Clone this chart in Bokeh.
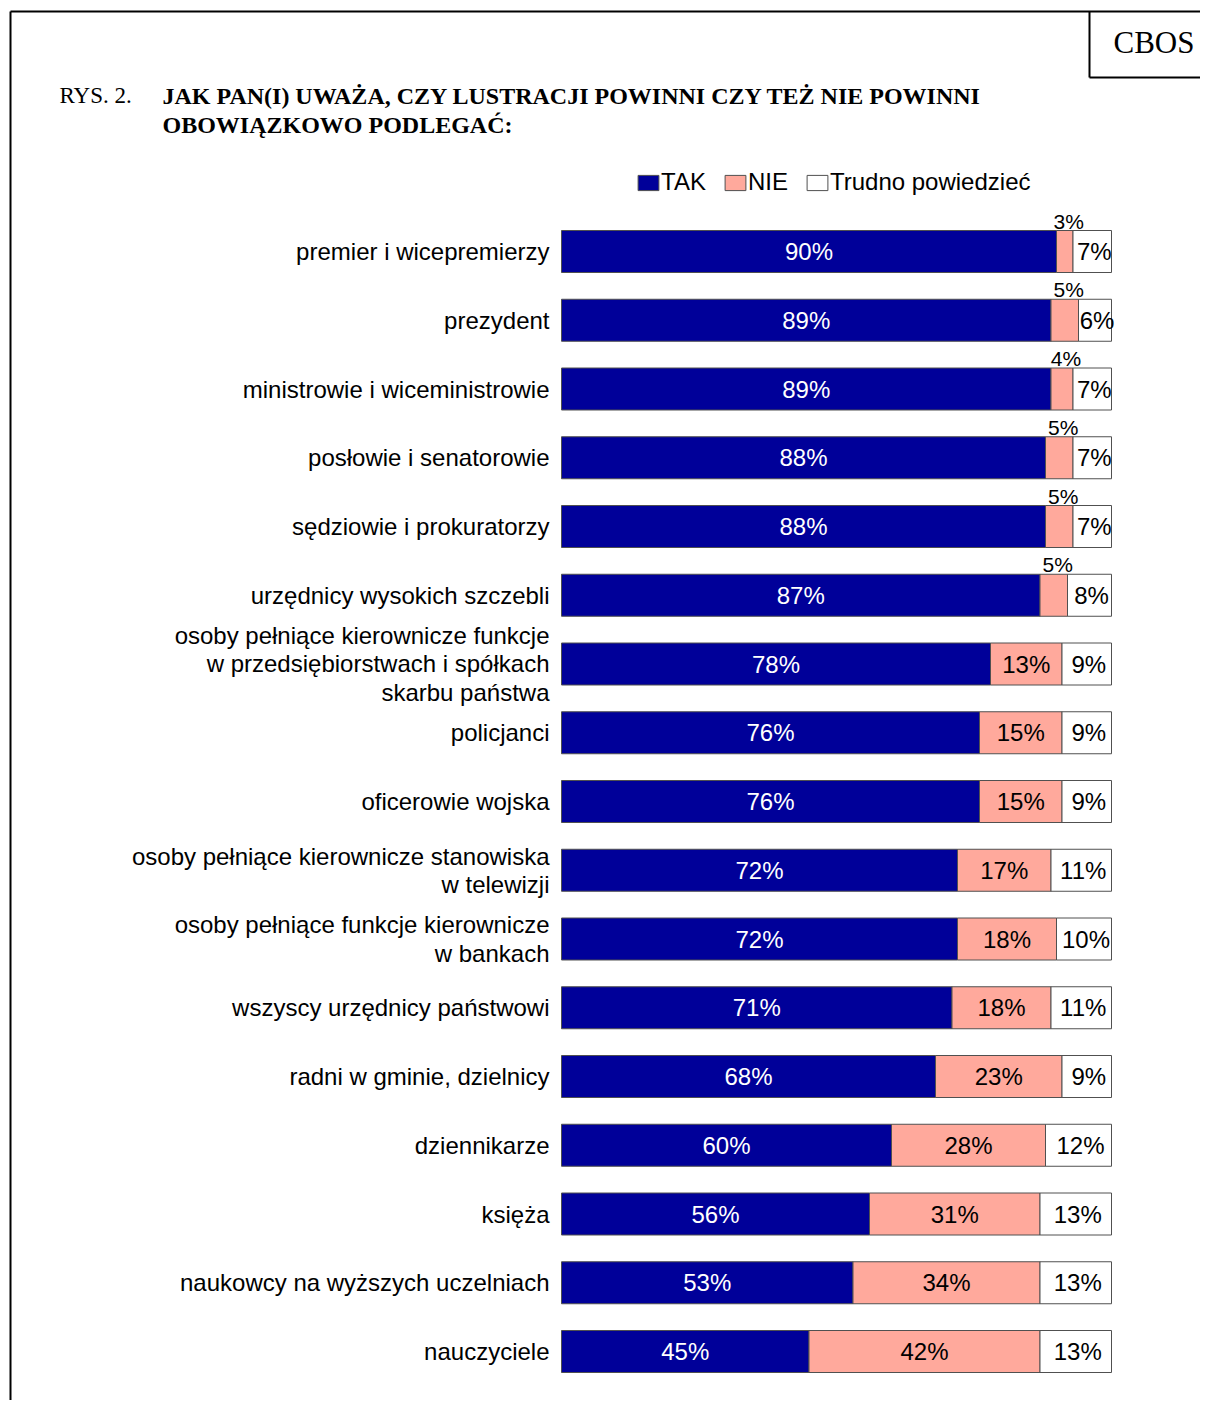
from bokeh.plotting import figure
from bokeh.models import Range1d, ColumnDataSource, Legend, LegendItem
from bokeh.core.properties import value
from bokeh.embed import file_html
from bokeh.resources import INLINE

# ---------------- data ----------------
categories = [
    "premier i wicepremierzy",
    "prezydent",
    "ministrowie i wiceministrowie",
    "posłowie i senatorowie",
    "sędziowie i prokuratorzy",
    "urzędnicy wysokich szczebli",
    "osoby pełniące kierownicze funkcje\nw przedsiębiorstwach i spółkach\nskarbu państwa",
    "policjanci",
    "oficerowie wojska",
    "osoby pełniące kierownicze stanowiska\nw telewizji",
    "osoby pełniące funkcje kierownicze\nw bankach",
    "wszyscy urzędnicy państwowi",
    "radni w gminie, dzielnicy",
    "dziennikarze",
    "księża",
    "naukowcy na wyższych uczelniach",
    "nauczyciele",
]
tak = [90, 89, 89, 88, 88, 87, 78, 76, 76, 72, 72, 71, 68, 60, 56, 53, 45]
nie = [3, 5, 4, 5, 5, 5, 13, 15, 15, 17, 18, 18, 23, 28, 31, 34, 42]
trudno = [7, 6, 7, 7, 7, 8, 9, 9, 9, 11, 10, 11, 9, 12, 13, 13, 13]
series_names = ["TAK", "NIE", "Trudno powiedzieć"]
title_prefix = "RYS. 2."
title_text = "JAK PAN(I) UWAŻA, CZY LUSTRACJI POWINNI CZY TEŻ NIE POWINNI\nOBOWIĄZKOWO PODLEGAĆ:"
brand = "CBOS"

# ---------------- layout ----------------
W, H = 1200, 1400
X0, PX_PER_PCT = 561.0, 5.5          # pixel of 0 % and pixels per percent
Y0, ROW = 251.0, 68.75               # pixel centre of first row, row pitch
BAR_H = 42.0 / ROW

def X(px):
    return (px - X0) / PX_PER_PCT

def Y(py):
    return (py - Y0) / ROW

SANS = value("Liberation Sans")
SERIF = value("Liberation Serif")
C_TAK, C_NIE, C_TR = "#000099", "#FFA99C", "#FFFFFF"

p = figure(width=W, height=H,
           x_range=Range1d(X(0), X(W)), y_range=Range1d(Y(H), Y(0)),
           x_axis_location=None, y_axis_location=None,
           toolbar_location=None, output_backend="svg", min_border=0)
p.outline_line_color = None
p.xgrid.grid_line_color = None
p.ygrid.grid_line_color = None
p.background_fill_color = "white"
p.border_fill_color = "white"

rows = list(range(len(categories)))
src = ColumnDataSource(dict(row=rows, tak=tak, nie=nie, trudno=trudno))
rs = p.hbar_stack(["tak", "nie", "trudno"], y="row", height=BAR_H,
                  color=[C_TAK, C_NIE, C_TR], line_color="#505050",
                  line_width=1, source=src)

# category labels
p.text(x=[0] * len(rows), y=rows, text=categories, x_offset=-12,
       text_align="right", text_baseline="middle", text_font=SANS,
       text_font_size="24px", text_color="black", text_line_height=1.04)

# TAK labels
p.text(x=[t / 2 for t in tak], y=rows, text=[f"{t}%" for t in tak],
       text_align="center", text_baseline="middle", text_font=SANS,
       text_font_size="24px", text_color="white")

# NIE labels: inside when wide, above bar when narrow
in_idx = [i for i in rows if nie[i] >= 10]
out_idx = [i for i in rows if nie[i] < 10]
p.text(x=[tak[i] + nie[i] / 2 for i in in_idx], y=[rows[i] for i in in_idx],
       text=[f"{nie[i]}%" for i in in_idx],
       text_align="center", text_baseline="middle", text_font=SANS,
       text_font_size="24px", text_color="black")
p.text(x=[tak[i] + nie[i] / 2 for i in out_idx],
       y=[rows[i] - BAR_H / 2 for i in out_idx],
       text=[f"{nie[i]}%" for i in out_idx], x_offset=4, y_offset=2,
       text_align="center", text_baseline="bottom", text_font=SANS,
       text_font_size="21px", text_color="black")

# Trudno labels
p.text(x=[tak[i] + nie[i] + trudno[i] / 2 for i in rows], y=rows,
       text=[f"{trudno[i]}%" for i in rows], x_offset=2,
       text_align="center", text_baseline="middle", text_font=SANS,
       text_font_size="24px", text_color="black")

# legend
legend = Legend(items=[LegendItem(label=n, renderers=[r]) for n, r in zip(series_names, rs)],
                orientation="horizontal", location=(635, H - 196),
                glyph_width=26, glyph_height=19, label_standoff=0, spacing=16,
                padding=0, margin=0, border_line_color=None,
                background_fill_alpha=0, label_text_font="Liberation Sans",
                label_text_font_size="24px", label_text_color="black")
p.add_layout(legend)

# title
p.text(x=[X(59)], y=[Y(95)], text=[title_prefix], text_align="left",
       text_baseline="middle", text_font=SERIF, text_font_size="23px",
       text_color="black")
p.text(x=[X(162)], y=[Y(95)], text=[title_text], text_align="left",
       text_baseline="top", y_offset=-13, text_font=SERIF, text_font_size="24px",
       text_font_style="bold", text_color="black", text_line_height=1.15)
p.text(x=[X(1113)], y=[Y(42)], text=[brand], text_align="left",
       text_baseline="middle", text_font=SERIF, text_font_size="31px",
       text_color="black")

# page frame and brand box
p.segment(x0=[X(10), X(10), X(1089), X(1089)],
          y0=[Y(11), Y(11), Y(11), Y(77)],
          x1=[X(10), X(W + 5), X(1089), X(W + 5)],
          y1=[Y(H + 5), Y(11), Y(77), Y(77)],
          line_color="black", line_width=2)

open("out.html", "w").write(file_html(p, INLINE))
